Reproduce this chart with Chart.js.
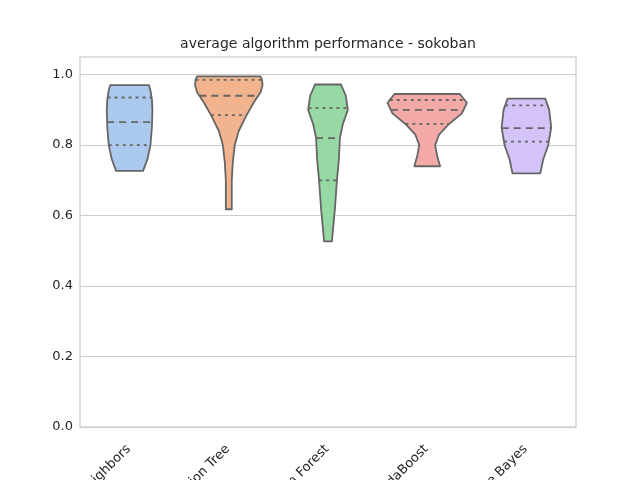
<!DOCTYPE html>
<html><head><meta charset="utf-8">
<script src="https://cdn.jsdelivr.net/npm/chart.js@4"></script>
<style>body{margin:0;background:#fff}</style></head>
<body><canvas id="c" width="640" height="480"></canvas>
<script>
const categories = ["Nearest Neighbors","Decision Tree","Random Forest","AdaBoost","Naive Bayes"];
const colors = ["#abc9ee","#f1b48e","#97d9a5","#f3aaa6","#d3c3f9"];
const yTicks = [0,0.2,0.4,0.6,0.8,1.0];
const titleText = 'average algorithm performance - sokoban';
// density profiles: y levels and half-widths (fraction of category width)
const nnY  = [0.727,0.76,0.80,0.85,0.90,0.93,0.955,0.97];
const nnW  = [0.136,0.18,0.21,0.225,0.23,0.225,0.21,0.196];
const dtY  = [0.618,0.70,0.75,0.80,0.84,0.88,0.92,0.95,0.97,0.985,0.995];
const dtW  = [0.03,0.03,0.04,0.06,0.10,0.17,0.25,0.32,0.34,0.335,0.32];
const rfY  = [0.527,0.56,0.62,0.70,0.76,0.82,0.86,0.90,0.94,0.972];
const rfW  = [0.04,0.05,0.07,0.09,0.11,0.12,0.15,0.20,0.18,0.13];
const abY  = [0.74,0.77,0.80,0.83,0.86,0.89,0.92,0.945];
const abW  = [0.13,0.10,0.08,0.12,0.22,0.35,0.40,0.33];
const nbY  = [0.72,0.76,0.80,0.85,0.90,0.932];
const nbW  = [0.14,0.17,0.22,0.25,0.23,0.19];
const q1 = [0.80,0.885,0.70,0.86,0.81];
const med = [0.865,0.94,0.82,0.90,0.848];
const q3 = [0.935,0.985,0.905,0.928,0.913];
const profiles = [[nnY,nnW],[dtY,dtW],[rfY,rfW],[abY,abW],[nbY,nbW]];

function hwAt(ys,ws,v){
  for(let i=0;i<ys.length-1;i++){ if(v>=ys[i]&&v<=ys[i+1]){const t=(v-ys[i])/(ys[i+1]-ys[i]);return ws[i]+t*(ws[i+1]-ws[i]);} }
  return 0;
}
const violin = {
  id:'violin',
  afterDatasetsDraw(chart){
    const ctx=chart.ctx, x=chart.scales.x, y=chart.scales.y;
    const cw = x.width/categories.length;
    profiles.forEach(([ys,ws],i)=>{
      const cx=x.getPixelForValue(i);
      ctx.save();
      ctx.beginPath();
      ys.forEach((v,k)=>{const px=cx+ws[k]*cw, py=y.getPixelForValue(v); k?ctx.lineTo(px,py):ctx.moveTo(px,py);});
      for(let k=ys.length-1;k>=0;k--) ctx.lineTo(cx-ws[k]*cw,y.getPixelForValue(ys[k]));
      ctx.closePath();
      ctx.fillStyle=colors[i]; ctx.fill();
      ctx.strokeStyle='#666'; ctx.lineWidth=1.8; ctx.lineJoin='round'; ctx.stroke();
      [[q1[i],[3,4]],[med[i],[7,5]],[q3[i],[3,4]]].forEach(([v,d])=>{
        const h=hwAt(ys,ws,v)*cw, py=y.getPixelForValue(v);
        ctx.beginPath(); ctx.setLineDash(d); ctx.moveTo(cx-h,py); ctx.lineTo(cx+h,py); ctx.stroke();
      });
      ctx.restore();
    });
    const a=chart.chartArea;
    ctx.save(); ctx.strokeStyle='#cccccc'; ctx.lineWidth=1.25; ctx.strokeRect(a.left,a.top,a.right-a.left,a.bottom-a.top);
    ctx.fillStyle='#262626'; ctx.font='13px "DejaVu Sans"'; ctx.textAlign='right'; ctx.textBaseline='middle';
    categories.forEach((c,i)=>{
      const cx=x.getPixelForValue(i);
      ctx.save(); ctx.translate(cx-1,a.bottom+20); ctx.rotate(-Math.PI/4); ctx.fillText(c,0,0); ctx.restore();
    });
    ctx.font='14px "DejaVu Sans"'; ctx.textAlign='center';
    ctx.fillText(titleText,(a.left+a.right)/2,44);
    ctx.restore();
  }
};
new Chart(document.getElementById('c'),{
  type:'bar',
  data:{labels:categories,datasets:[{data:categories.map(()=>null)}]},
  options:{
    responsive:false,animation:false,
    layout:{padding:{left:0,right:64,top:57,bottom:0}},
    plugins:{legend:{display:false},tooltip:{enabled:false},title:{display:false}},
    scales:{
      x:{offset:true,grid:{display:false},border:{display:false},ticks:{display:false},
        afterFit(s){s.height=53;}},
      y:{min:0,max:1.05,afterBuildTicks(s){s.ticks=yTicks.map(v=>({value:v}));},
        ticks:{color:'#262626',font:{family:'DejaVu Sans',size:13},callback:v=>v.toFixed(1),padding:7},
        grid:{color:'#cccccc',drawTicks:false},border:{display:false},
        afterFit(s){s.width=80;}}
    }
  },
  plugins:[violin]
});
</script></body></html>
